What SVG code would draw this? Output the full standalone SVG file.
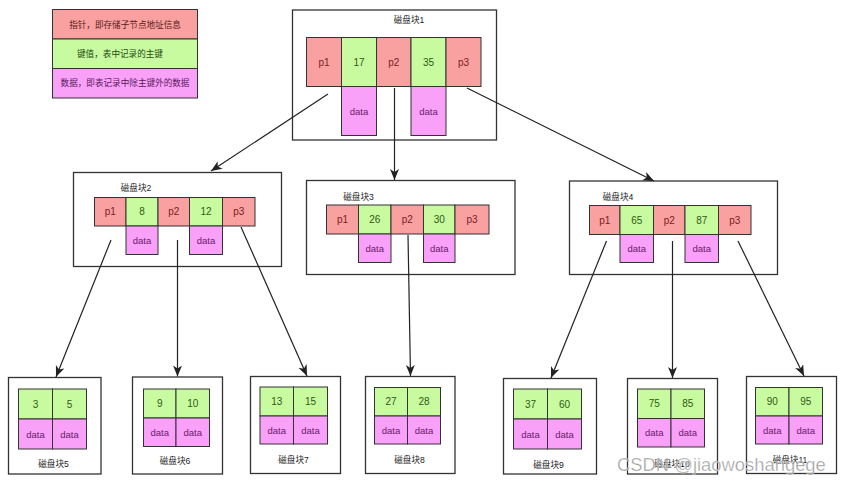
<svg xmlns="http://www.w3.org/2000/svg" width="842" height="483" viewBox="0 0 842 483">
<style>
text{font-family:"Liberation Sans","Noto Sans CJK SC",sans-serif;text-anchor:middle;dominant-baseline:central}
.box{fill:#fff;stroke:#333;stroke-width:1.3}
.p{fill:#F9A0A0;stroke:#333;stroke-width:1}
.k{fill:#C8FBA0;stroke:#333;stroke-width:1}
.d{fill:#F9A0F9;stroke:#333;stroke-width:1}
.tp{fill:#7a2020;font-size:10px}
.tk{fill:#2f5a10;font-size:10px}
.td{fill:#6a1a6a;font-size:9.5px}
.tl{font-size:8.6px}
.tt{fill:#222;font-size:8.6px}
.c{stroke:#222;stroke-width:1.2;fill:none;marker-end:url(#ah)}
</style>
<defs>
<marker id="ah" markerUnits="userSpaceOnUse" markerWidth="12" markerHeight="10" refX="11" refY="4.5" orient="auto">
<path d="M0,0 L11,4.5 L0,9 L3,4.5 z" fill="#222"/>
</marker>
</defs>
<rect width="842" height="483" fill="#fff"/>

<g id="legend">
<rect class="p" x="52.5" y="9.5" width="145" height="29.5"/>
<rect class="k" x="52.5" y="39" width="145" height="29.5"/>
<rect class="d" x="52.5" y="68.5" width="145" height="29.5"/>
<text class="tl" x="125" y="25" fill="#5a1a1a">指针，即存储子节点地址信息</text>
<text class="tl" x="120" y="53.5" fill="#244a10">键值，表中记录的主键</text>
<text class="tl" x="125" y="83" fill="#5a1a5a">数据，即表记录中除主键外的数据</text>
</g>

<g id="block1">
<rect class="box" x="292.5" y="10" width="204" height="130"/>
<text class="tt" x="409" y="19.5">磁盘块1</text>
<rect class="p" x="306.5" y="37.5" width="35" height="49"/>
<rect class="k" x="341.5" y="37.5" width="35" height="49"/>
<rect class="p" x="376.5" y="37.5" width="34.5" height="49"/>
<rect class="k" x="411" y="37.5" width="35" height="49"/>
<rect class="p" x="446" y="37.5" width="35" height="49"/>
<rect class="d" x="341.5" y="86.5" width="35" height="49"/>
<rect class="d" x="411" y="86.5" width="35" height="49"/>
<text class="tp" x="324" y="62">p1</text>
<text class="tk" x="359" y="62">17</text>
<text class="tp" x="393.7" y="62">p2</text>
<text class="tk" x="428.5" y="62">35</text>
<text class="tp" x="463.5" y="62">p3</text>
<text class="td" x="359" y="111">data</text>
<text class="td" x="428.5" y="111">data</text>
</g>

<g id="block2">
<rect class="box" x="73.5" y="172.5" width="208" height="94"/>
<text class="tt" x="136" y="187.5">磁盘块2</text>
<rect class="p" x="94.5" y="197.5" width="31.5" height="28.5"/>
<rect class="k" x="126" y="197.5" width="32" height="28.5"/>
<rect class="p" x="158" y="197.5" width="31.5" height="28.5"/>
<rect class="k" x="189.5" y="197.5" width="33" height="28.5"/>
<rect class="p" x="222.5" y="197.5" width="32.5" height="28.5"/>
<rect class="d" x="126" y="226" width="32" height="28.5"/>
<rect class="d" x="189.5" y="226" width="33" height="28.5"/>
<text class="tp" x="110.2" y="211.7">p1</text>
<text class="tk" x="142" y="211.7">8</text>
<text class="tp" x="173.7" y="211.7">p2</text>
<text class="tk" x="206" y="211.7">12</text>
<text class="tp" x="238.7" y="211.7">p3</text>
<text class="td" x="142" y="240">data</text>
<text class="td" x="206" y="240">data</text>
</g>

<g id="block3">
<rect class="box" x="306.5" y="180.5" width="208.5" height="94"/>
<text class="tt" x="358.5" y="196.5">磁盘块3</text>
<rect class="p" x="326.5" y="205" width="32" height="29"/>
<rect class="k" x="358.5" y="205" width="32.5" height="29"/>
<rect class="p" x="391" y="205" width="32.5" height="29"/>
<rect class="k" x="423.5" y="205" width="31.5" height="29"/>
<rect class="p" x="455" y="205" width="34" height="29"/>
<rect class="d" x="358.5" y="234" width="32.5" height="28.5"/>
<rect class="d" x="423.5" y="234" width="31.5" height="28.5"/>
<text class="tp" x="342.5" y="219.5">p1</text>
<text class="tk" x="374.7" y="219.5">26</text>
<text class="tp" x="407.2" y="219.5">p2</text>
<text class="tk" x="439.2" y="219.5">30</text>
<text class="tp" x="472" y="219.5">p3</text>
<text class="td" x="374.7" y="248">data</text>
<text class="td" x="439.2" y="248">data</text>
</g>

<g id="block4">
<rect class="box" x="569.5" y="181" width="208" height="93.5"/>
<text class="tt" x="618" y="196.5">磁盘块4</text>
<rect class="p" x="589.5" y="205.5" width="30.5" height="29"/>
<rect class="k" x="620" y="205.5" width="33.5" height="29"/>
<rect class="p" x="653.5" y="205.5" width="31.5" height="29"/>
<rect class="k" x="685" y="205.5" width="33.5" height="29"/>
<rect class="p" x="718.5" y="205.5" width="32.5" height="29"/>
<rect class="d" x="620" y="234.5" width="33.5" height="28"/>
<rect class="d" x="685" y="234.5" width="33.5" height="28"/>
<text class="tp" x="604.7" y="220">p1</text>
<text class="tk" x="636.7" y="220">65</text>
<text class="tp" x="669.2" y="220">p2</text>
<text class="tk" x="701.7" y="220">87</text>
<text class="tp" x="734.7" y="220">p3</text>
<text class="td" x="636.7" y="248.5">data</text>
<text class="td" x="701.7" y="248.5">data</text>
</g>

<g id="block5">
<rect class="box" x="8.5" y="377.5" width="92.5" height="96.5"/>
<rect class="k" x="18.5" y="389" width="34" height="30"/>
<rect class="k" x="52.5" y="389" width="34" height="30"/>
<rect class="d" x="18.5" y="419" width="34" height="30"/>
<rect class="d" x="52.5" y="419" width="34" height="30"/>
<text class="tk" x="35.5" y="404">3</text>
<text class="tk" x="69.5" y="404">5</text>
<text class="td" x="35.5" y="434">data</text>
<text class="td" x="69.5" y="434">data</text>
<text class="tt" x="53.5" y="464">磁盘块5</text>
</g>

<g id="block6">
<rect class="box" x="132.5" y="377" width="90" height="97"/>
<rect class="k" x="143.5" y="389" width="32.5" height="29"/>
<rect class="k" x="176" y="389" width="33.5" height="29"/>
<rect class="d" x="143.5" y="418" width="32.5" height="28.5"/>
<rect class="d" x="176" y="418" width="33.5" height="28.5"/>
<text class="tk" x="159.7" y="403.5">9</text>
<text class="tk" x="192.7" y="403.5">10</text>
<text class="td" x="159.7" y="432">data</text>
<text class="td" x="192.7" y="432">data</text>
<text class="tt" x="175" y="461">磁盘块6</text>
</g>

<g id="block7">
<rect class="box" x="250.5" y="376.5" width="90" height="97"/>
<rect class="k" x="260" y="387" width="33.5" height="29"/>
<rect class="k" x="293.5" y="387" width="34" height="29"/>
<rect class="d" x="260" y="416" width="33.5" height="28"/>
<rect class="d" x="293.5" y="416" width="34" height="28"/>
<text class="tk" x="276.7" y="401.5">13</text>
<text class="tk" x="310.5" y="401.5">15</text>
<text class="td" x="276.7" y="430">data</text>
<text class="td" x="310.5" y="430">data</text>
<text class="tt" x="293.5" y="459.5">磁盘块7</text>
</g>

<g id="block8">
<rect class="box" x="365.5" y="376.5" width="89.5" height="97"/>
<rect class="k" x="374.5" y="387.5" width="33" height="28.5"/>
<rect class="k" x="407.5" y="387.5" width="33" height="28.5"/>
<rect class="d" x="374.5" y="416" width="33" height="28"/>
<rect class="d" x="407.5" y="416" width="33" height="28"/>
<text class="tk" x="391" y="401.7">27</text>
<text class="tk" x="424" y="401.7">28</text>
<text class="td" x="391" y="430">data</text>
<text class="td" x="424" y="430">data</text>
<text class="tt" x="409.5" y="459.5">磁盘块8</text>
</g>

<g id="block9">
<rect class="box" x="503.5" y="378.5" width="93" height="95.5"/>
<rect class="k" x="513.5" y="389" width="34" height="30"/>
<rect class="k" x="547.5" y="389" width="34" height="30"/>
<rect class="d" x="513.5" y="419" width="34" height="30"/>
<rect class="d" x="547.5" y="419" width="34" height="30"/>
<text class="tk" x="530.5" y="404">37</text>
<text class="tk" x="564.5" y="404">60</text>
<text class="td" x="530.5" y="434">data</text>
<text class="td" x="564.5" y="434">data</text>
<text class="tt" x="548.5" y="465">磁盘块9</text>
</g>

<g id="block10">
<rect class="box" x="627.5" y="378.5" width="90" height="95.5"/>
<rect class="k" x="637.5" y="389" width="33.5" height="29.5"/>
<rect class="k" x="671" y="389" width="33.5" height="29.5"/>
<rect class="d" x="637.5" y="418.5" width="33.5" height="28.5"/>
<rect class="d" x="671" y="418.5" width="33.5" height="28.5"/>
<text class="tk" x="654.2" y="403.7">75</text>
<text class="tk" x="687.7" y="403.7">85</text>
<text class="td" x="654.2" y="432.7">data</text>
<text class="td" x="687.7" y="432.7">data</text>
<text class="tt" x="672" y="464">磁盘块10</text>
</g>

<g id="block11">
<rect class="box" x="746.5" y="376.5" width="90" height="97"/>
<rect class="k" x="755.5" y="387.5" width="33.5" height="28.5"/>
<rect class="k" x="789" y="387.5" width="33.5" height="28.5"/>
<rect class="d" x="755.5" y="416" width="33.5" height="28"/>
<rect class="d" x="789" y="416" width="33.5" height="28"/>
<text class="tk" x="772.2" y="401.7">90</text>
<text class="tk" x="805.7" y="401.7">95</text>
<text class="td" x="772.2" y="430">data</text>
<text class="td" x="805.7" y="430">data</text>
<text class="tt" x="790" y="460">磁盘块11</text>
</g>

<g id="connectors">
<path class="c" d="M328,94 L211,171"/>
<path class="c" d="M394.5,88 L394.5,180"/>
<path class="c" d="M467,88 L654,181"/>
<path class="c" d="M111,240 L56,377"/>
<path class="c" d="M177.5,240 L177.5,376.5"/>
<path class="c" d="M241,227 L307,376"/>
<path class="c" d="M408,235 L410.5,376"/>
<path class="c" d="M606.5,241 L551,378"/>
<path class="c" d="M672.5,241 L672.5,378"/>
<path class="c" d="M738,241 L804,376"/>
</g>

<text x="617" y="464" style="text-anchor:start;font-size:18.4px;fill:#8a8a8a;fill-opacity:0.85;stroke:#fff;stroke-width:0.6;stroke-opacity:0.6">CSDN @jiaowoshangege</text>
</svg>
